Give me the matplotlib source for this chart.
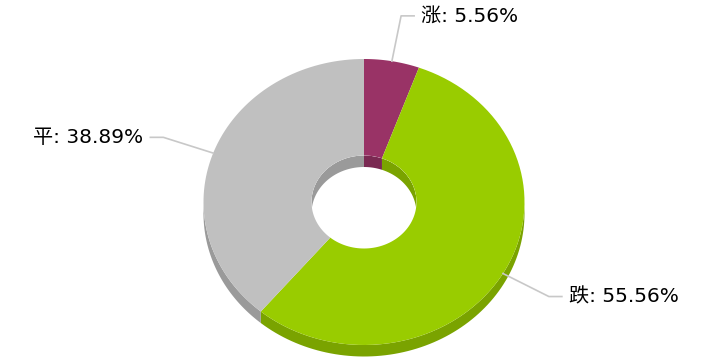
"""
3D donut chart: share of 涨 / 跌 / 平
drawn by hand with polygons in pixel coordinates
"""
import numpy as np
import matplotlib.pyplot as plt
from matplotlib.patches import Polygon, Ellipse

plt.rcParams['font.family'] = ['DejaVu Sans', 'Noto Sans CJK SC']

NAMES = ["涨", "跌", "平"]
VALUES = [5.56, 55.56, 38.89]
COLORS = ["#993366", "#99cc00", "#c0c0c0"]

CX, CY = 364, 202        # centre of top face
RX, RY = 160.5, 143      # outer radii
IRX, IRY = 52.5, 46.5    # hole radii
DEPTH = 11.5


def darken(hex_col, f=0.8):
    r, g, b = [int(hex_col[i:i + 2], 16) for i in (1, 3, 5)]
    return (r * f / 255, g * f / 255, b * f / 255)


def arc(a0, a1, rx, ry, dy=0, n=80):
    t = np.radians(np.linspace(a0, a1, n))
    return np.column_stack([CX + rx * np.cos(t), CY + dy + ry * np.sin(t)])


def clip_range(a0, a1, lo, hi):
    """intersect slice angles with a visible band, trying 360 shifts"""
    for s in (-360, 0, 360):
        b0, b1 = max(a0 + s, lo), min(a1 + s, hi)
        if b1 > b0:
            return b0, b1
    return None


def main():
    fig = plt.figure(figsize=(7.03, 3.62), dpi=100)
    ax = fig.add_axes([0, 0, 1, 1])
    ax.set_xlim(0, 703)
    ax.set_ylim(362, 0)
    ax.axis("off")

    total = sum(VALUES)
    starts = []
    a = -90.0
    for v in VALUES:
        starts.append((a, a + 360.0 * v / total))
        a += 360.0 * v / total

    # outer side walls (front half)
    for (a0, a1), col in zip(starts, COLORS):
        rng = clip_range(a0, a1, 0, 180)
        if rng is None:
            continue
        top = arc(rng[0], rng[1], RX, RY)
        bot = arc(rng[1], rng[0], RX, RY, DEPTH)
        ax.add_patch(Polygon(np.vstack([top, bot]), closed=True,
                             facecolor=darken(col), edgecolor="none"))

    # top faces
    for (a0, a1), col in zip(starts, COLORS):
        outer = arc(a0, a1, RX, RY)
        inner = arc(a1, a0, IRX, IRY)
        ax.add_patch(Polygon(np.vstack([outer, inner]), closed=True,
                             facecolor=col, edgecolor="none"))

    # inner back wall seen through the hole
    hole = Ellipse((CX, CY), 2 * IRX, 2 * IRY, facecolor="none",
                   edgecolor="none")
    ax.add_patch(hole)
    for (a0, a1), col in zip(starts, COLORS):
        rng = clip_range(a0, a1, 180, 360)
        if rng is None:
            continue
        top = arc(rng[0], rng[1], IRX, IRY)
        bot = arc(rng[1], rng[0], IRX, IRY, DEPTH)
        p = Polygon(np.vstack([top, bot]), closed=True,
                    facecolor=darken(col), edgecolor="none")
        ax.add_patch(p)
        p.set_clip_path(hole)

    # labels with connectors
    for (a0, a1), name, v in zip(starts, NAMES, VALUES):
        mid = np.radians((a0 + a1) / 2)
        ex, ey = CX + RX * np.cos(mid), CY + RY * np.sin(mid)
        kx, ky = CX + (RX + 53) * np.cos(mid), CY + (RY + 46) * np.sin(mid)
        side = 1 if np.cos(mid) >= 0 else -1
        hx = kx + side * 13
        ax.plot([ex, kx, hx], [ey, ky, ky], color="#c8c8c8", lw=1.2)
        ax.text(hx + side * 7, ky, "{}: {:.2f}%".format(name, v),
                ha="left" if side > 0 else "right", va="center",
                fontsize=14.5, color="black")

    fig.savefig("out.png", dpi=100)


if __name__ == "__main__":
    main()
